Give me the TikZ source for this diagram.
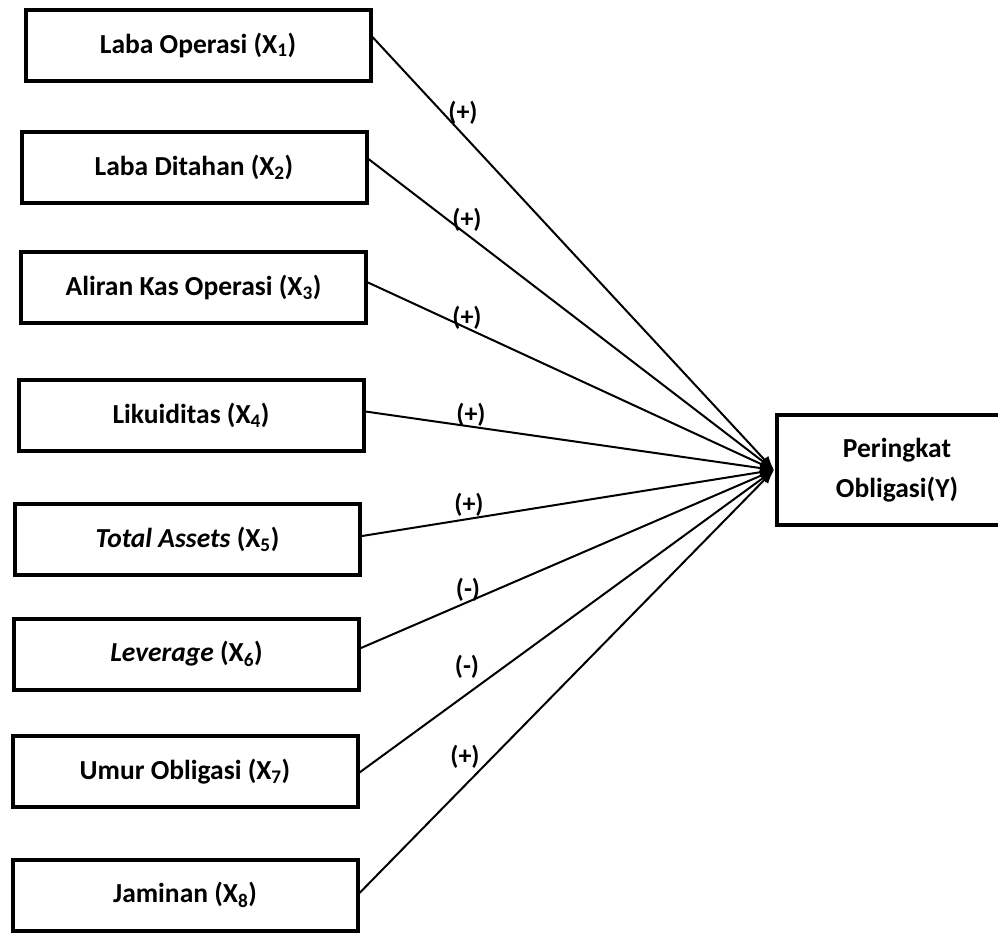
\documentclass[tikz,border=0pt]{standalone}
\usepackage{fontspec}
\setmainfont{Carlito}
\usetikzlibrary{arrows.meta}
\begin{document}
\begin{tikzpicture}[x=1pt,y=-1pt,
  varbox/.style={draw,line width=4pt,minimum width=345pt,minimum height=71pt,inner sep=0pt,font=\fontsize{27.5}{32}\selectfont\bfseries},
  ybox/.style={draw,line width=4pt,minimum width=240pt,minimum height=110pt,inner sep=0pt,align=center,font=\fontsize{27.5}{40}\selectfont\bfseries},
  link/.style={line width=2pt,-{Latex[length=14pt,width=11pt]}},
  sign/.style={font=\fontsize{26}{30}\selectfont\bfseries}]
\useasboundingbox (0,0) rectangle (998,932);
\fill[white] (0,0) rectangle (998,932);
\node[varbox] (x1) at (198,45) {Laba Operasi (X\textsubscript{1})};
\node[varbox] (x2) at (194,167) {Laba Ditahan (X\textsubscript{2})};
\node[varbox] (x3) at (193.5,287.5) {Aliran Kas Operasi (X\textsubscript{3})};
\node[varbox] (x4) at (191,415.5) {Likuiditas (X\textsubscript{4})};
\node[varbox] (x5) at (187.5,539) {\textit{Total Assets} (X\textsubscript{5})};
\node[varbox] (x6) at (186.5,654) {\textit{Leverage} (X\textsubscript{6})};
\node[varbox] (x7) at (185,771.5) {Umur Obligasi (X\textsubscript{7})};
\node[varbox] (x8) at (185,895) {Jaminan (X\textsubscript{8})};
\node[ybox] (y) at (897,470) {Peringkat\\Obligasi(Y)};
\coordinate (tip) at ([xshift=-1pt]y.west);
\draw[link] ([yshift=8pt]x1.east) -- (tip);
\draw[link] ([yshift=8pt]x2.east) -- (tip);
\draw[link] ([yshift=5pt]x3.east) -- (tip);
\draw[link] ([yshift=4pt]x4.east) -- (tip);
\draw[link] ([yshift=3pt]x5.east) -- (tip);
\draw[link] ([yshift=6pt]x6.east) -- (tip);
\draw[link] ([yshift=-1pt]x7.east) -- (tip);
\draw[link] ([yshift=2pt]x8.east) -- (tip);
\node[sign] (s1) at (463,113) {(+)};
\node[sign] (s2) at (467,220) {(+)};
\node[sign] (s3) at (467,318) {(+)};
\node[sign] (s4) at (471,415) {(+)};
\node[sign] (s5) at (469,505) {(+)};
\node[sign] (s6) at (468,590) {(-)};
\node[sign] (s7) at (467,667) {(-)};
\node[sign] (s8) at (465,757) {(+)};
\end{tikzpicture}
\end{document}
